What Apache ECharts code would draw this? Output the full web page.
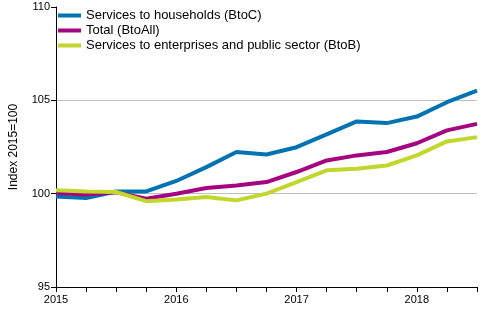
<!DOCTYPE html>
<html><head><meta charset="utf-8">
<script src="https://cdn.jsdelivr.net/npm/echarts@6/dist/echarts.min.js"></script>
<style>html,body{margin:0;padding:0;background:#fff}#c{width:500px;height:330px}</style>
</head><body><div id="c"></div>
<script>
var categories = ['2015Q1','2015Q2','2015Q3','2015Q4','2016Q1','2016Q2','2016Q3','2016Q4','2017Q1','2017Q2','2017Q3','2017Q4','2018Q1','2018Q2','2018Q3'];
var btoc = [99.85, 99.77, 100.12, 100.12, 100.68, 101.42, 102.23, 102.10, 102.49, 103.18, 103.87, 103.78, 104.13, 104.90, 105.52];
var total = [100.03, 99.96, 100.07, 99.73, 100.00, 100.30, 100.44, 100.62, 101.16, 101.78, 102.05, 102.23, 102.70, 103.39, 103.74];
var btob = [100.18, 100.12, 100.09, 99.60, 99.69, 99.82, 99.64, 100.00, 100.62, 101.25, 101.34, 101.51, 102.05, 102.80, 103.03];
var seriesNames = ['Services to households (BtoC)', 'Total (BtoAll)', 'Services to enterprises and public sector (BtoB)'];
var colors = ['#0073b0', '#a5037f', '#c2d62e'];
var yTicks = [95, 100, 105, 110];
var yName = 'Index 2015=100';

var font = 'Liberation Sans, Arial, sans-serif';
var chart = echarts.init(document.getElementById('c'), null, {renderer: 'canvas'});
function mk(name, data, color) {
  return {name: name, type: 'line', data: data, showSymbol: false, symbol: 'none',
    lineStyle: {width: 4, color: color}, itemStyle: {color: color}, animation: false, z: 3};
}
chart.setOption({
  animation: false,
  textStyle: {fontFamily: font},
  grid: {left: 54, right: 23, top: 7, bottom: 43, containLabel: false},
  legend: {
    orient: 'vertical', left: 58, top: 8, padding: 0, itemGap: 0, itemWidth: 23, itemHeight: 4,
    icon: 'rect',
    textStyle: {fontFamily: font, fontSize: 13, color: '#000', lineHeight: 15},
    data: seriesNames
  },
  xAxis: {
    type: 'category', data: categories, boundaryGap: false,
    axisLine: {lineStyle: {color: '#000', width: 1}},
    axisTick: {show: true, interval: 0, length: 5, lineStyle: {color: '#000'}},
    axisLabel: {interval: 3, color: '#000', fontSize: 11, fontFamily: font, margin: 7,
      formatter: function (v) { return v.slice(0, 4); }},
    splitLine: {show: false}
  },
  yAxis: {
    type: 'value', min: yTicks[0], max: yTicks[yTicks.length - 1], interval: 5,
    name: yName, nameLocation: 'middle', nameGap: 36,
    nameTextStyle: {fontSize: 12, color: '#000', fontFamily: font},
    axisLine: {show: true, lineStyle: {color: '#000', width: 1}},
    axisTick: {show: true, length: 5, lineStyle: {color: '#000'}},
    axisLabel: {color: '#000', fontSize: 11, fontFamily: font, margin: 6},
    splitLine: {show: true, showMinLine: false, showMaxLine: false, lineStyle: {color: '#bfbfbf', width: 1}}
  },
  series: [mk(seriesNames[0], btoc, colors[0]), mk(seriesNames[1], total, colors[1]), mk(seriesNames[2], btob, colors[2])]
});
</script></body></html>
